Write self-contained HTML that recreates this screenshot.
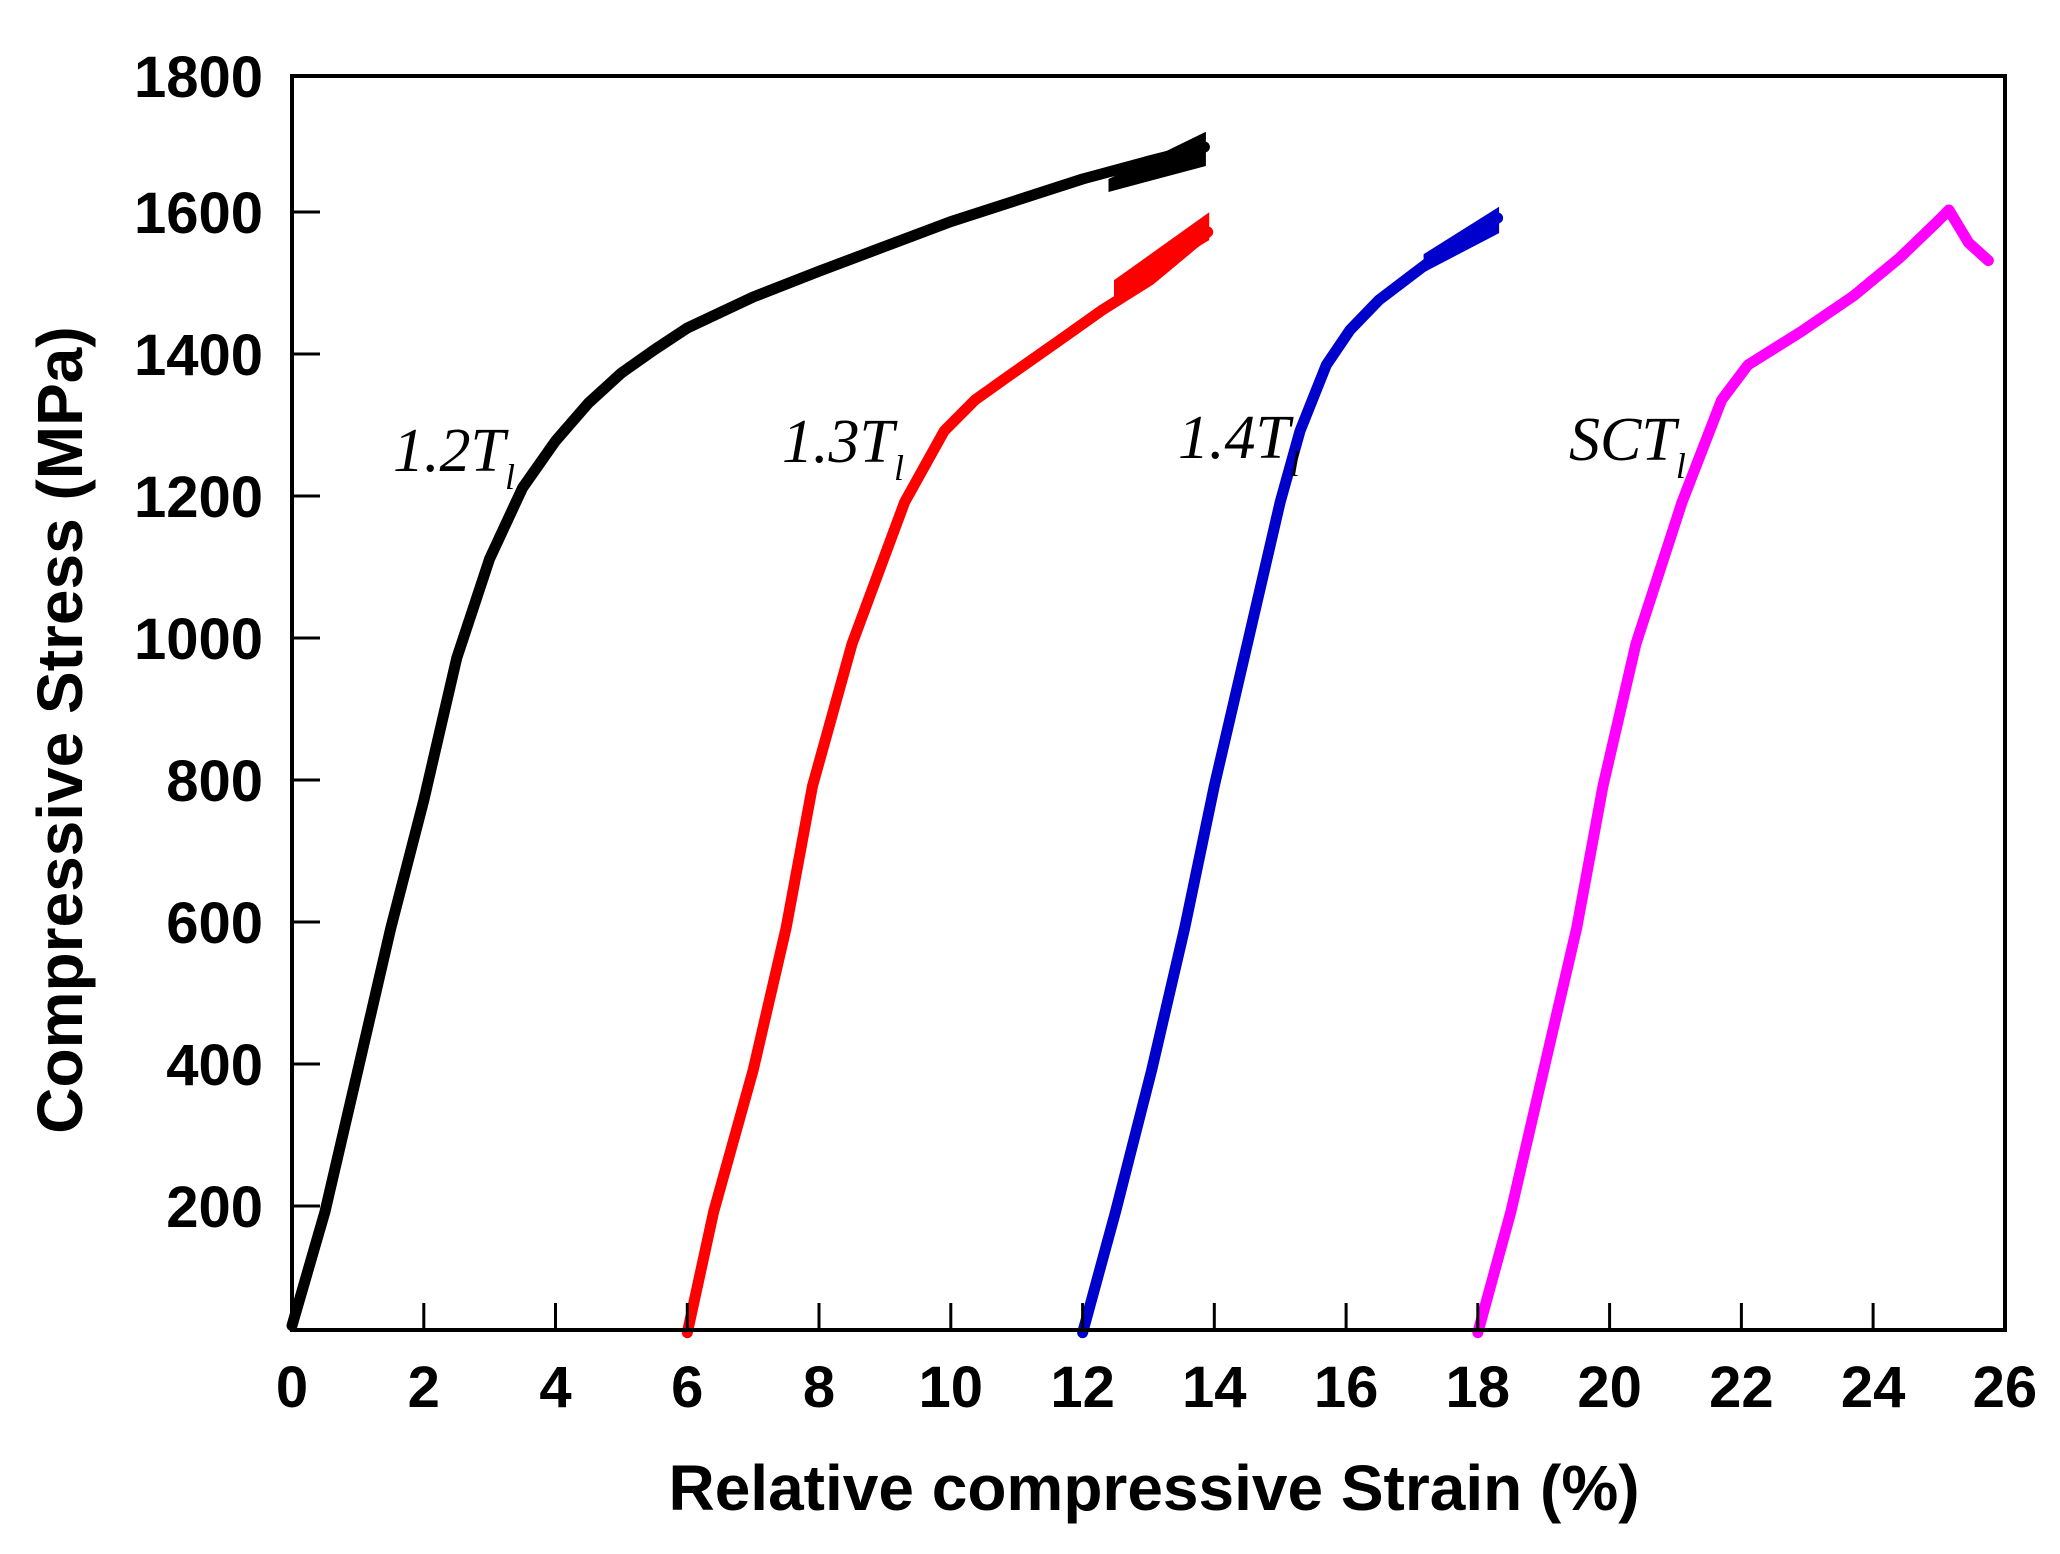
<!DOCTYPE html>
<html><head><meta charset="utf-8"><style>
html,body{margin:0;padding:0;background:#fff;}
svg{display:block;}
.t{font-family:"Liberation Sans",Arial,sans-serif;font-weight:bold;font-size:58px;fill:#000;}
.lab{font-family:"Liberation Serif",serif;font-style:italic;font-size:62px;fill:#000;}
</style></head><body>
<svg width="2060" height="1554" viewBox="0 0 2060 1554" xmlns="http://www.w3.org/2000/svg">
<g fill="none" stroke-linejoin="round" stroke-linecap="round" stroke-width="11">
<polyline stroke="#000" points="292,1325.6 324.9,1212 357.9,1070 390.8,928 423.8,800.2 456.7,658.2 489.6,558.8 522.6,487.8 555.5,441 588.5,403 621.4,373 654,350 687.3,328 753.2,297 819,271.3 884.9,246.4 950.8,221.6 1016.7,200.3 1082.6,179 1148.4,161.2 1204.4,147"/>
<polyline stroke="#ff0000" points="687.3,1332.7 713.6,1212 753.2,1070 786.1,928 812.5,786 852,644 904.7,502 944.2,431 975,400 1010.1,375 1060,340 1102.3,310 1150,280 1207.7,232"/>
<polyline stroke="#0000cc" points="1082.6,1332.7 1115.5,1212 1151.7,1070 1184.7,928 1214.3,786 1247.3,644 1280.2,502 1300,431 1326.3,365 1350,330 1379,300 1431.7,260 1497.6,218"/>
<polyline stroke="#ff00ff" points="1477.8,1332.7 1510.8,1212 1543.7,1070 1576.7,928 1603,786 1635.9,644 1682.1,502 1721.6,400 1747.9,365 1800.6,332 1853.4,296 1899.5,258 1939,220 1948.9,210 1968.7,242.9 1988.4,260.6"/>
</g>
<polygon fill="#000" stroke="#000" stroke-width="3" points="1110,180 1204.4,134.2 1204.4,164.8 1110,190"/>
<polygon fill="#ff0000" stroke="#ff0000" stroke-width="3" points="1115.5,281 1207.7,215.2 1207.7,239.3 1115.5,295"/>
<polygon fill="#0000cc" stroke="#0000cc" stroke-width="3" points="1425.1,255 1497.6,209.5 1497.6,232.2 1425.1,270"/>
<rect x="292" y="76" width="1713" height="1254" fill="none" stroke="#000" stroke-width="4"/>
<g stroke="#000" stroke-width="3">
<line x1="292" y1="212" x2="320" y2="212"/><line x1="292" y1="354" x2="320" y2="354"/>
<line x1="292" y1="496" x2="320" y2="496"/><line x1="292" y1="638" x2="320" y2="638"/>
<line x1="292" y1="780" x2="320" y2="780"/><line x1="292" y1="922" x2="320" y2="922"/>
<line x1="292" y1="1064" x2="320" y2="1064"/><line x1="292" y1="1206" x2="320" y2="1206"/>
<line x1="423.8" y1="1330" x2="423.8" y2="1303"/><line x1="555.5" y1="1330" x2="555.5" y2="1303"/>
<line x1="687.3" y1="1330" x2="687.3" y2="1303"/><line x1="819" y1="1330" x2="819" y2="1303"/>
<line x1="950.8" y1="1330" x2="950.8" y2="1303"/><line x1="1082.6" y1="1330" x2="1082.6" y2="1303"/>
<line x1="1214.3" y1="1330" x2="1214.3" y2="1303"/><line x1="1346.1" y1="1330" x2="1346.1" y2="1303"/>
<line x1="1477.8" y1="1330" x2="1477.8" y2="1303"/><line x1="1609.6" y1="1330" x2="1609.6" y2="1303"/>
<line x1="1741.4" y1="1330" x2="1741.4" y2="1303"/><line x1="1873.1" y1="1330" x2="1873.1" y2="1303"/>
</g>
<g class="t" text-anchor="end">
<text x="263" y="97">1800</text><text x="263" y="233">1600</text><text x="263" y="375">1400</text>
<text x="263" y="517">1200</text><text x="263" y="659">1000</text><text x="263" y="801">800</text>
<text x="263" y="943">600</text><text x="263" y="1085">400</text><text x="263" y="1227">200</text>
</g>
<g class="t" text-anchor="middle">
<text x="292" y="1407">0</text><text x="423.8" y="1407">2</text><text x="555.5" y="1407">4</text>
<text x="687.3" y="1407">6</text><text x="819" y="1407">8</text><text x="950.8" y="1407">10</text>
<text x="1082.6" y="1407">12</text><text x="1214.3" y="1407">14</text><text x="1346.1" y="1407">16</text>
<text x="1477.8" y="1407">18</text><text x="1609.6" y="1407">20</text><text x="1741.4" y="1407">22</text>
<text x="1873.1" y="1407">24</text><text x="2004.9" y="1407">26</text>
</g>
<text class="t" x="1154" y="1510" text-anchor="middle" style="font-size:64px">Relative compressive Strain (%)</text>
<text class="t" transform="translate(82,730) rotate(-90)" text-anchor="middle" style="font-size:64px">Compressive Stress (MPa)</text>
<text class="lab" x="393" y="471">1.2T<tspan dy="18" font-size="36">l</tspan></text>
<text class="lab" x="782" y="462">1.3T<tspan dy="18" font-size="36">l</tspan></text>
<text class="lab" x="1178" y="458">1.4T<tspan dy="18" font-size="36">l</tspan></text>
<text class="lab" x="1569" y="460">SCT<tspan dy="18" font-size="36">l</tspan></text>
</svg>
</body></html>
